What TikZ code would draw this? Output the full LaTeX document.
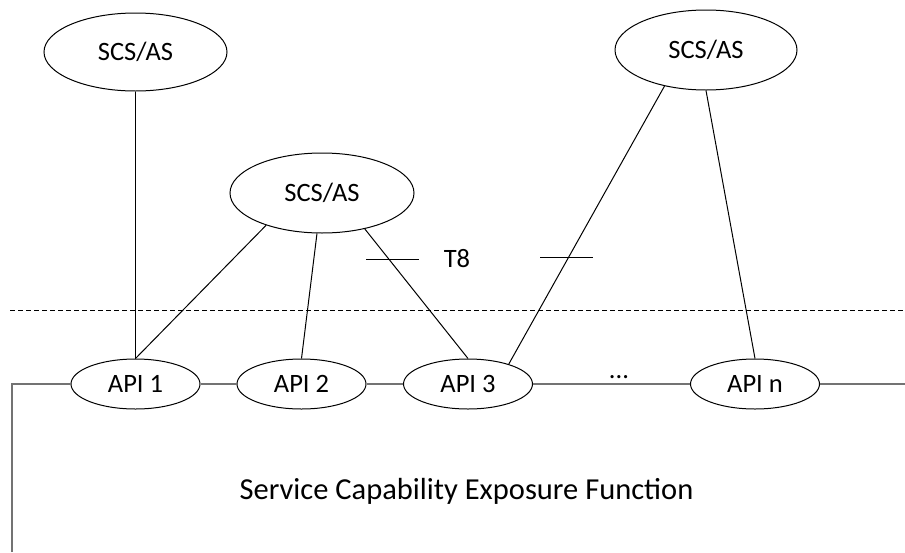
\documentclass[tikz,border=0pt]{standalone}
\usepackage{fontspec}
\setmainfont{Carlito}
\usetikzlibrary{shapes.geometric}
\begin{document}
\begin{tikzpicture}[x=1pt,y=-1pt,
  every node/.style={font=\fontsize{26.5}{30}\selectfont},
  scs/.style={ellipse,draw=black,line width=1pt,inner sep=0pt},
  api/.style={ellipse,draw=black,line width=1pt,inner sep=0pt,minimum width=129pt,minimum height=50pt},
  link/.style={draw=black,line width=1pt},
  bus/.style={draw=black!55,line width=1.6pt},
  tick/.style={draw=black,line width=1pt},
  lbl/.style={inner sep=0pt,anchor=base}]
\useasboundingbox (0,0) rectangle (905,552);
% SCS/AS nodes
\node[scs,minimum width=183pt,minimum height=78pt] (s1) at (135.5,52) {SCS/AS};
\node[scs,minimum width=184pt,minimum height=80pt] (s2) at (322,193) {SCS/AS};
\node[scs,minimum width=182pt,minimum height=80pt] (s3) at (706,50) {SCS/AS};
% API nodes
\node[api] (a1) at (135.5,384) {API 1};
\node[api] (a2) at (301.5,384) {API 2};
\node[api] (a3) at (468,384) {API 3};
\node[api] (an) at (755,384) {API n};
% bus
\coordinate (bl) at (12,384);
\coordinate (bb) at (12,552);
\coordinate (br) at (905,384);
\draw[bus] (bb) -- (bl) -- (a1.west);
\draw[bus] (a1.east) -- (a2.west);
\draw[bus] (a2.east) -- (a3.west);
\draw[bus] (a3.east) -- (an.west);
\draw[bus] (an.east) -- (br);
% dashed boundary
\coordinate (dl) at (10,310);
\coordinate (dr) at (905,310);
\draw[black,line width=1pt,dash pattern=on 5pt off 3pt] (dl) -- (dr);
% links
\draw[link] (s1.south) -- (a1.north);
\draw[link] (s2.210) -- (a1.north);
\draw[link] (s2) -- (a2.north);
\draw[link] (s2.320) -- (a3.north);
\draw[link] (s3.221) -- (a3.26);
\draw[link] (s3.south) -- (an.north);
% T8 ticks
\coordinate (t1a) at (366,259);
\coordinate (t1b) at (419,259);
\coordinate (t2a) at (540,257);
\coordinate (t2b) at (593,257);
\draw[tick] (t1a) -- (t1b);
\draw[tick] (t2a) -- (t2b);
\node[lbl] (t8) at (457,267) {T8};
\node[lbl] (dots) at (619,378) {...};
\node[lbl,font=\fontsize{30.5}{34}\selectfont] (sef) at (466.5,499) {Service Capability Exposure Function};
\end{tikzpicture}
\end{document}
